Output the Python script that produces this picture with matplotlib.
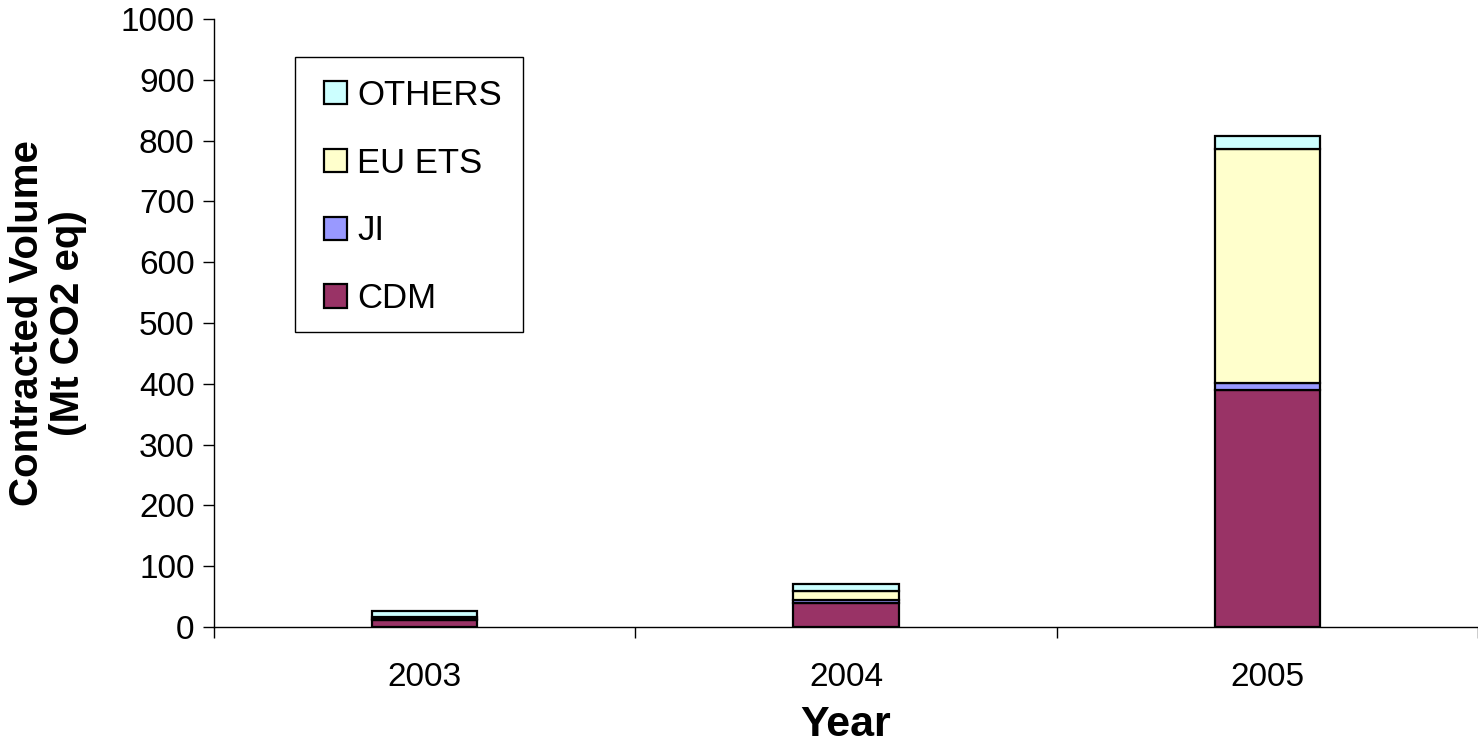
import matplotlib
matplotlib.use("Agg")
import matplotlib.pyplot as plt
from matplotlib.patches import Rectangle
import numpy as np

years = ["2003", "2004", "2005"]
cdm = [11, 40, 390]
ji = [2, 4, 12]
eu_ets = [3, 15, 385]
others = [10, 11, 20]

series = [("CDM", cdm, "#993366"), ("JI", ji, "#9999FF"),
          ("EU ETS", eu_ets, "#FFFFCC"), ("OTHERS", others, "#CCFFFF")]

plt.rcParams['font.family'] = ['Liberation Sans', 'DejaVu Sans']

W, H = 1478, 745
fig = plt.figure(figsize=(W/100, H/100), dpi=100)
ax = fig.add_axes([214/W, 1-627/H, 1-214/W, (627-19)/H])

x = np.arange(len(years))
bottom = np.zeros(len(years))
handles = []
for name, vals, col in series:
    b = ax.bar(x, vals, 0.25, bottom=bottom, color=col, edgecolor="black",
               linewidth=1.6, label=name, zorder=3)
    handles.append(b)
    bottom += np.array(vals)

ax.set_xlim(-0.5, 2.5)
ax.set_ylim(0, 1000)
ax.set_yticks(np.arange(0, 1001, 100))
ax.set_xticks(x)
ax.set_xticklabels(years)
ax.set_xticks([-0.5, 0.5, 1.5, 2.5], minor=True)
ax.tick_params(axis='x', which='major', length=0, labelsize=24, pad=25)
ax.tick_params(axis='x', which='minor', length=8, width=1)
ax.tick_params(axis='y', length=8, width=1, labelsize=24, pad=6)
for s in ['top', 'right']:
    ax.spines[s].set_visible(False)
ax.spines['left'].set_linewidth(1)
ax.spines['bottom'].set_linewidth(1)

ax.set_xlabel("Year", fontsize=31, fontweight='bold', labelpad=9)
ax.set_ylabel("Contracted Volume\n(Mt CO2 eq)", fontsize=29, fontweight='bold',
              labelpad=24, linespacing=1.1)

# legend frame drawn separately
fig.patches.append(Rectangle((295/W, 1-332/H), (523-295)/W, (332-57)/H,
                             transform=fig.transFigure, facecolor='white',
                             edgecolor='black', linewidth=1, zorder=4))
leg = fig.legend(handles[::-1], [s[0] for s in series][::-1],
                 loc='upper left', bbox_to_anchor=(324/W, 1-79/H),
                 bbox_transform=fig.transFigure, fontsize=25, frameon=False,
                 handlelength=0.65, handleheight=0.65, handletextpad=0.3,
                 labelspacing=1.0, borderpad=0, borderaxespad=0)
leg.set_zorder(6)

fig.savefig("out.png", dpi=100)
